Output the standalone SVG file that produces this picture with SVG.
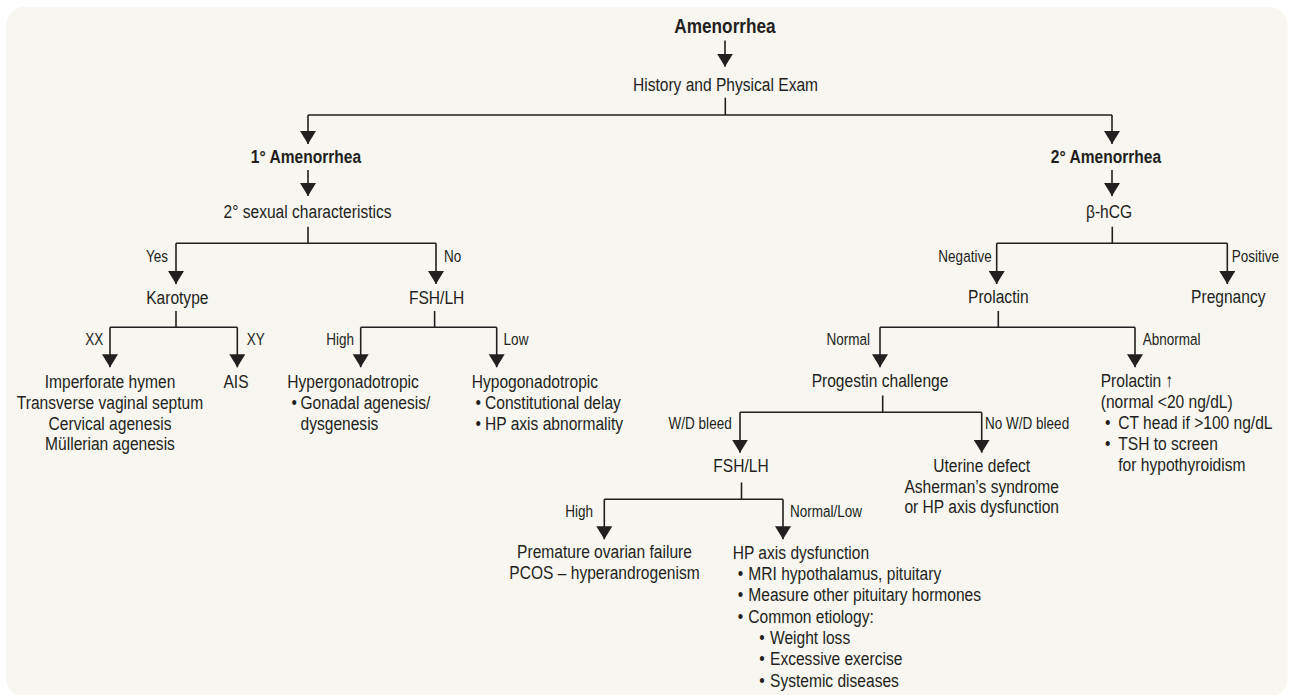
<svg xmlns="http://www.w3.org/2000/svg" width="1293" height="695" viewBox="0 0 1293 695">
<defs>
<style>
.t{font-family:'Liberation Sans Narrow','Liberation Sans',Arial,sans-serif;font-size:19px;fill:#231f20}
.b{font-weight:bold}
.l{font-size:16.5px}
.c{text-anchor:middle}
.e{text-anchor:end}
.ln{fill:none;stroke:#231f20;stroke-width:1.6}
.ar{marker-end:url(#ah)}
</style>
<marker id="ah" viewBox="0 0 13 16" refX="13" refY="8" markerWidth="13" markerHeight="16" markerUnits="userSpaceOnUse" orient="auto">
<path d="M0,0 L13,8 L0,16 Z" fill="#231f20"/>
</marker>
</defs>
<rect x="6.5" y="7" width="1281" height="690" rx="18" fill="#f7f6f0"/>
<g id="connectors">
<path class="ln ar" d="M725,40.5 V66.7"/>
<path class="ln" d="M725.3,97.7 V115"/>
<path class="ln" d="M308,115 H1112"/>
<path class="ln ar" d="M308,115 V144"/>
<path class="ln ar" d="M1112,115 V144"/>
<path class="ln ar" d="M308,170 V196"/>
<path class="ln ar" d="M1112,170 V196"/>
<path class="ln" d="M308,226.7 V243.3"/>
<path class="ln" d="M176,243.3 H436"/>
<path class="ln ar" d="M176,243.3 V284"/>
<path class="ln ar" d="M436,243.3 V284"/>
<path class="ln" d="M1112.3,226.7 V243.3"/>
<path class="ln" d="M996.7,243.3 H1227.3"/>
<path class="ln ar" d="M996.7,243.3 V284"/>
<path class="ln ar" d="M1227.3,243.3 V284"/>
<path class="ln" d="M176,311 V327.3"/>
<path class="ln" d="M110,327.3 H237.3"/>
<path class="ln ar" d="M110,327.3 V367.3"/>
<path class="ln ar" d="M237.3,327.3 V367.3"/>
<path class="ln" d="M434.6,311 V327.3"/>
<path class="ln" d="M360.7,327.3 H496.7"/>
<path class="ln ar" d="M360.7,327.3 V367.3"/>
<path class="ln ar" d="M496.7,327.3 V367.3"/>
<path class="ln" d="M998.3,311 V327.3"/>
<path class="ln" d="M880,327.3 H1135"/>
<path class="ln ar" d="M880,327.3 V367.3"/>
<path class="ln ar" d="M1135,327.3 V367.3"/>
<path class="ln" d="M882.7,395.5 V412.3"/>
<path class="ln" d="M740,412.3 H981.7"/>
<path class="ln ar" d="M740,412.3 V452.7"/>
<path class="ln ar" d="M981.7,412.3 V452.7"/>
<path class="ln" d="M741.5,482.5 V499.3"/>
<path class="ln" d="M604.3,499.3 H783"/>
<path class="ln ar" d="M604.3,499.3 V539.3"/>
<path class="ln ar" d="M783,499.3 V539.3"/>
</g>
<g id="labels">
<text class="t l e" transform="matrix(.82 0 0 1 168 262)">Yes</text>
<text class="t l" transform="matrix(.82 0 0 1 444 262)">No</text>
<text class="t l e" transform="matrix(.82 0 0 1 991.7 262)">Negative</text>
<text class="t l" transform="matrix(.82 0 0 1 1231.7 262)">Positive</text>
<text class="t l e" transform="matrix(.82 0 0 1 103.3 345)">XX</text>
<text class="t l" transform="matrix(.82 0 0 1 246.7 345)">XY</text>
<text class="t l e" transform="matrix(.82 0 0 1 354 345)">High</text>
<text class="t l" transform="matrix(.82 0 0 1 503.6 345)">Low</text>
<text class="t l e" transform="matrix(.82 0 0 1 870 345)">Normal</text>
<text class="t l" transform="matrix(.82 0 0 1 1142.7 345)">Abnormal</text>
<text class="t l e" transform="matrix(.82 0 0 1 731.7 429.3)">W/D bleed</text>
<text class="t l" transform="matrix(.82 0 0 1 985 429.3)">No W/D bleed</text>
<text class="t l e" transform="matrix(.82 0 0 1 593 516.7)">High</text>
<text class="t l" transform="matrix(.82 0 0 1 790 516.7)">Normal/Low</text>
</g>
<g id="amenorrhea"><text class="t b c" transform="matrix(.82 0 0 1 725 33)" style="font-size:21px">Amenorrhea</text></g>
<g id="history"><text class="t c" transform="matrix(.82 0 0 1 725.5 90.7)">History and Physical Exam</text></g>
<g id="primary"><text class="t b c" transform="matrix(.82 0 0 1 306 163)">1° Amenorrhea</text></g>
<g id="secondary"><text class="t b c" transform="matrix(.82 0 0 1 1106 163)">2° Amenorrhea</text></g>
<g id="sexchar"><text class="t c" transform="matrix(.82 0 0 1 307.5 218)">2° sexual characteristics</text></g>
<g id="bhcg"><text class="t c" transform="matrix(.82 0 0 1 1109 218)">β-hCG</text></g>
<g id="karotype"><text class="t c" transform="matrix(.82 0 0 1 177.3 303.5)">Karotype</text></g>
<g id="fshlh1"><text class="t c" transform="matrix(.82 0 0 1 436.6 303.5)">FSH/LH</text></g>
<g id="prolactin"><text class="t c" transform="matrix(.82 0 0 1 998.3 303)">Prolactin</text></g>
<g id="pregnancy"><text class="t c" transform="matrix(.82 0 0 1 1228.3 303)">Pregnancy</text></g>
<g id="xx">
<text class="t c" transform="matrix(.82 0 0 1 110 388.3)">Imperforate hymen</text>
<text class="t c" transform="matrix(.82 0 0 1 110 409)">Transverse vaginal septum</text>
<text class="t c" transform="matrix(.82 0 0 1 110 429.7)">Cervical agenesis</text>
<text class="t c" transform="matrix(.82 0 0 1 110 450.4)">Müllerian agenesis</text>
</g>
<g id="ais"><text class="t c" transform="matrix(.82 0 0 1 236 388.3)">AIS</text></g>
<g id="hyper">
<text class="t" transform="matrix(.82 0 0 1 287.3 388.3)">Hypergonadotropic</text>
<text class="t" transform="matrix(.82 0 0 1 291.5 409)">•</text>
<text class="t" transform="matrix(.82 0 0 1 300.5 409)">Gonadal agenesis/</text>
<text class="t" transform="matrix(.82 0 0 1 300.5 429.7)">dysgenesis</text>
</g>
<g id="hypo">
<text class="t" transform="matrix(.82 0 0 1 471.7 388.3)">Hypogonadotropic</text>
<text class="t" transform="matrix(.82 0 0 1 475.5 409)">•</text>
<text class="t" transform="matrix(.82 0 0 1 485 409)">Constitutional delay</text>
<text class="t" transform="matrix(.82 0 0 1 475.5 429.7)">•</text>
<text class="t" transform="matrix(.82 0 0 1 485 429.7)">HP axis abnormality</text>
</g>
<g id="progestin"><text class="t c" transform="matrix(.82 0 0 1 880 387)">Progestin challenge</text></g>
<g id="prolhigh">
<text class="t" transform="matrix(.82 0 0 1 1100.7 387)">Prolactin ↑</text>
<text class="t" transform="matrix(.82 0 0 1 1100.7 408)">(normal &lt;20 ng/dL)</text>
<text class="t" transform="matrix(.82 0 0 1 1105 429)">•</text>
<text class="t" transform="matrix(.82 0 0 1 1118.3 429)">CT head if &gt;100 ng/dL</text>
<text class="t" transform="matrix(.82 0 0 1 1105 450)">•</text>
<text class="t" transform="matrix(.82 0 0 1 1118.3 450)">TSH to screen</text>
<text class="t" transform="matrix(.82 0 0 1 1118.3 471)">for hypothyroidism</text>
</g>
<g id="fshlh2"><text class="t c" transform="matrix(.82 0 0 1 741 471.7)">FSH/LH</text></g>
<g id="uterine">
<text class="t c" transform="matrix(.82 0 0 1 981.7 471.7)">Uterine defect</text>
<text class="t c" transform="matrix(.82 0 0 1 981.7 492.5)">Asherman’s syndrome</text>
<text class="t c" transform="matrix(.82 0 0 1 981.7 513.3)">or HP axis dysfunction</text>
</g>
<g id="premature">
<text class="t c" transform="matrix(.82 0 0 1 604.5 557.5)">Premature ovarian failure</text>
<text class="t c" transform="matrix(.82 0 0 1 604.5 578.5)">PCOS – hyperandrogenism</text>
</g>
<g id="hpaxis">
<text class="t" transform="matrix(.82 0 0 1 732.7 558.5)">HP axis dysfunction</text>
<text class="t" transform="matrix(.82 0 0 1 737.7 580)">•</text>
<text class="t" transform="matrix(.82 0 0 1 748.3 580)">MRI hypothalamus, pituitary</text>
<text class="t" transform="matrix(.82 0 0 1 737.7 601.3)">•</text>
<text class="t" transform="matrix(.82 0 0 1 748.3 601.3)">Measure other pituitary hormones</text>
<text class="t" transform="matrix(.82 0 0 1 737.7 622.6)">•</text>
<text class="t" transform="matrix(.82 0 0 1 748.3 622.6)">Common etiology:</text>
<text class="t" transform="matrix(.82 0 0 1 759.3 643.9)">•</text>
<text class="t" transform="matrix(.82 0 0 1 770 643.9)">Weight loss</text>
<text class="t" transform="matrix(.82 0 0 1 759.3 665.2)">•</text>
<text class="t" transform="matrix(.82 0 0 1 770 665.2)">Excessive exercise</text>
<text class="t" transform="matrix(.82 0 0 1 759.3 686.5)">•</text>
<text class="t" transform="matrix(.82 0 0 1 770 686.5)">Systemic diseases</text>
</g>
</svg>
